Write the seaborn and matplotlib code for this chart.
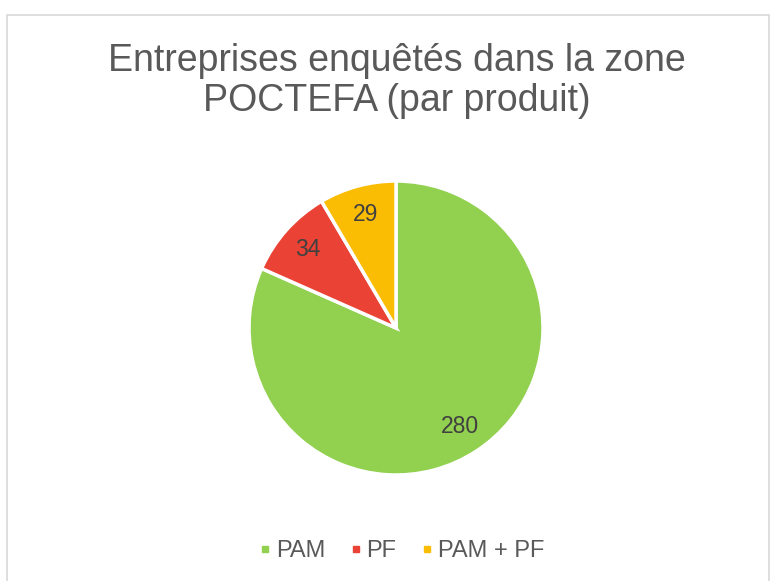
import matplotlib
matplotlib.use("Agg")
import matplotlib.pyplot as plt
import seaborn as sns
from matplotlib.lines import Line2D
from matplotlib.patches import Rectangle

sns.set_theme(style="white")
plt.rcParams["font.family"] = ["Liberation Sans", "DejaVu Sans"]

# data
categories = ["PAM", "PF", "PAM + PF"]
values = [280, 34, 29]
colors = ["#92D050", "#EA4335", "#FBBC04"]

fig = plt.figure(figsize=(7.73, 5.81), dpi=100)

# light chart frame like the spreadsheet export
fig.patches.append(Rectangle((7 / 773, -0.01), (769 - 7) / 773, (581 - 15) / 581 + 0.01,
                             transform=fig.transFigure, fill=False,
                             edgecolor="#D9D9D9", linewidth=1.2))

ax = fig.add_axes([(396 - 147) / 773, (581 - 475) / 581, 294 / 773, 294 / 581])
wedges, texts, autotexts = ax.pie(
    values, colors=colors, startangle=90, counterclock=False,
    autopct=lambda p: f"{round(p * sum(values) / 100):d}", pctdistance=0.8,
    wedgeprops=dict(edgecolor="white", linewidth=2.5),
    textprops=dict(color="#404040", fontsize=16.5),
)
ax.set_xlim(-1.0, 1.0)
ax.set_ylim(-1.0, 1.0)
ax.set_aspect("equal")

fig.text(397 / 773, 1 - 81 / 581, "Entreprises enquêtés dans la zone\nPOCTEFA (par produit)",
         ha="center", va="center", fontsize=27, color="#595959", linespacing=1.13)

handles = [Line2D([], [], marker="s", linestyle="", markersize=5,
                  markerfacecolor=c, markeredgecolor=c) for c in colors]
fig.legend(handles, categories, loc="center", bbox_to_anchor=(401 / 773, 1 - 551 / 581),
           ncol=3, frameon=False, fontsize=17, labelcolor="#595959",
           handletextpad=0.15, columnspacing=1.0, handlelength=0.6)

fig.savefig("out.png", dpi=100)
